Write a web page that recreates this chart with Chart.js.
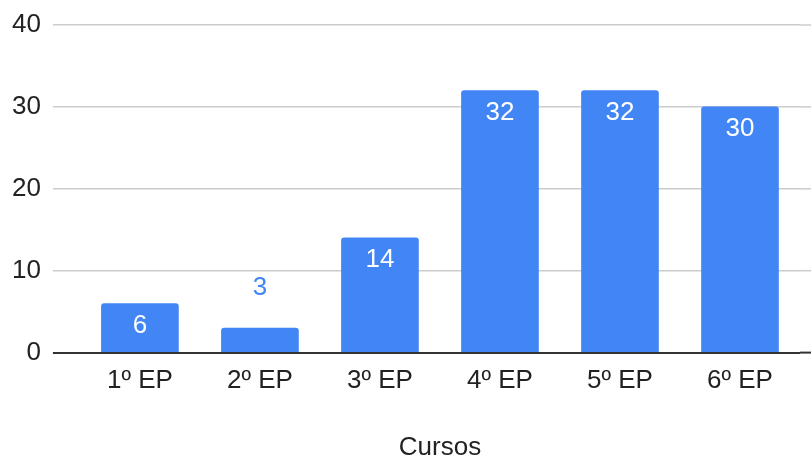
<!DOCTYPE html>
<html><head><meta charset="utf-8">
<script src="https://cdn.jsdelivr.net/npm/chart.js@4"></script>
<style>html,body{margin:0;padding:0;background:#fff}#wrap{width:811px;height:457px}</style>
</head><body><div id="wrap"><canvas id="c" width="811" height="457"></canvas></div>
<script>
const categories = ['1º EP','2º EP','3º EP','4º EP','5º EP','6º EP'];
const values = [6, 3, 14, 32, 32, 30];
const yTicks = [0, 10, 20, 30, 40];
const axisTitle = 'Cursos';

const BLUE = '#4285F4';
const FONT = '"Liberation Sans", Arial, sans-serif';

const extendGrid = {
  id: 'extendGrid',
  beforeDatasetsDraw(chart) {
    const {ctx, chartArea} = chart;
    const y = chart.scales.y;
    ctx.save();
    yTicks.forEach(v => {
      const py = y.getPixelForValue(v);
      ctx.strokeStyle = v === 0 ? '#333' : '#cccccc';
      ctx.lineWidth = v === 0 ? 2 : 1.5;
      ctx.beginPath();
      ctx.moveTo(chartArea.right, py);
      ctx.lineTo(chart.width, py);
      ctx.stroke();
    });
    ctx.restore();
  }
};

const barLabels = {
  id: 'barLabels',
  afterDatasetsDraw(chart) {
    const {ctx} = chart;
    const meta = chart.getDatasetMeta(0);
    ctx.save();
    ctx.font = '26px ' + FONT;
    ctx.textAlign = 'center';
    ctx.textBaseline = 'middle';
    meta.data.forEach((bar, i) => {
      const v = values[i];
      const h = bar.base - bar.y;
      if (h > 40) {
        ctx.fillStyle = '#ffffff';
        ctx.fillText(String(v), bar.x, bar.y + 22);
      } else {
        ctx.fillStyle = BLUE;
        ctx.fillText(String(v), bar.x, bar.y - 40);
      }
    });
    ctx.restore();
  }
};

new Chart(document.getElementById('c'), {
  type: 'bar',
  data: {
    labels: categories,
    datasets: [{
      data: values,
      backgroundColor: BLUE,
      borderRadius: 3,
      borderSkipped: 'bottom',
      barThickness: 77
    }]
  },
  options: {
    responsive: false,
    animation: false,
    devicePixelRatio: 1,
    layout: { padding: { top: 13, right: 11, left: 0, bottom: 0 } },
    plugins: { legend: { display: false }, tooltip: { enabled: false } },
    scales: {
      x: {
        grid: { display: false },
        border: { display: false },
        ticks: { color: '#222', font: { family: FONT, size: 26 }, padding: 5, maxRotation: 0 },
        title: { display: true, text: axisTitle, color: '#222', font: { family: FONT, size: 26, lineHeight: 0.7 }, padding: { top: 37, bottom: 0 } }
      },
      y: {
        min: 0, max: 40,
        afterBuildTicks(scale) { scale.ticks = yTicks.map(v => ({ value: v })); },
        grid: {
          color: c => c.tick && c.tick.value === 0 ? '#333' : '#cccccc',
          lineWidth: c => c.tick && c.tick.value === 0 ? 2 : 1.5,
          tickLength: 27,
          tickColor: c => c.tick && c.tick.value === 0 ? '#333' : '#cccccc'
        },
        border: { display: false },
        ticks: { color: '#222', font: { family: FONT, size: 26, lineHeight: 1.0 }, padding: 12 }
      }
    }
  },
  plugins: [extendGrid, barLabels]
});
</script></body></html>
